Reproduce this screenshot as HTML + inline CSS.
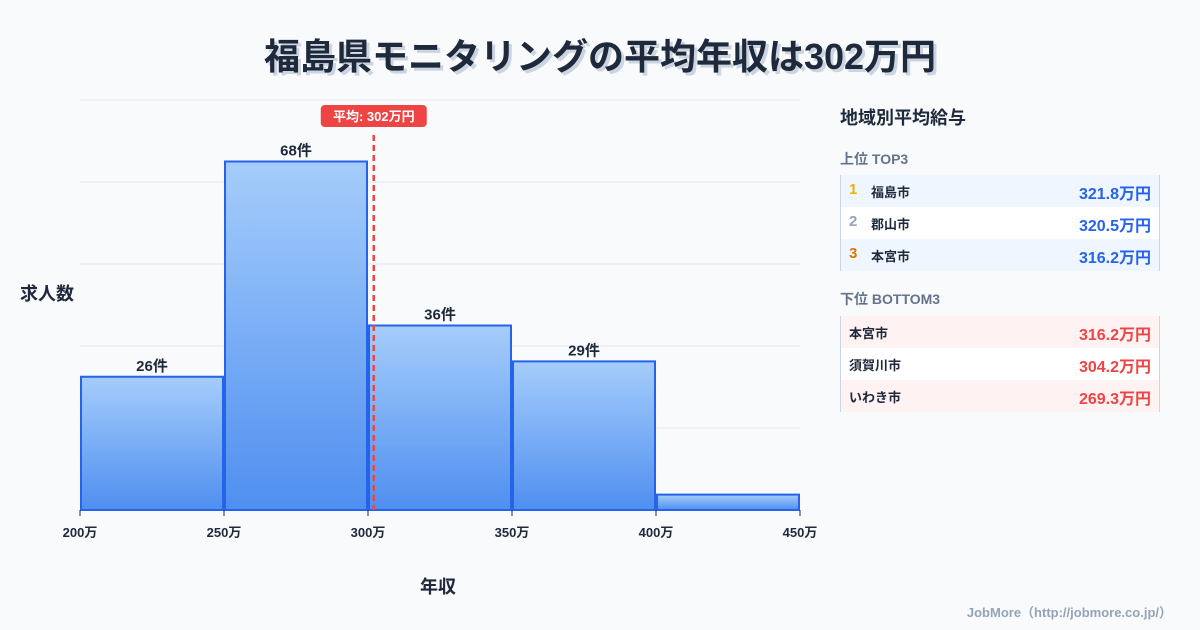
<!DOCTYPE html>
<html><head><meta charset="utf-8"><style>
body{margin:0;width:1200px;height:630px;background:#f8fafc;font-family:"Liberation Sans","Noto Sans CJK JP",sans-serif;position:relative;overflow:hidden;color:#1e293b}
.t{position:absolute;white-space:nowrap}
#title{left:0;width:1200px;text-align:center;top:28px;font-size:36px;font-weight:bold;color:#1e293b;text-shadow:3px 3px 0 #cbd5e1}
.panel{position:absolute;left:840px;width:320px}
.row{position:absolute;left:840px;width:320px;height:32px;border-left:1px solid #cbd5e1;border-right:1px solid #cbd5e1;box-sizing:border-box;font-size:13px;font-weight:bold}
.row span{position:absolute;top:7px}
.row .v{right:8px;font-size:16px;top:5px}
</style></head><body>
<div id="title" class="t">福島県モニタリングの平均年収は302万円</div>
<svg id="chart" width="1200" height="630" style="position:absolute;left:0;top:0">
<defs><linearGradient id="g" x1="0" y1="0" x2="0" y2="1"><stop offset="0" stop-color="#a5cdfb"/><stop offset="1" stop-color="#4f8ff0"/></linearGradient></defs>
</svg>
<div class="t" style="left:20px;top:280px;font-size:18px;font-weight:bold">求人数</div>
<div class="t" style="left:420px;top:573px;font-size:18px;font-weight:bold">年収</div>
<div class="t" style="right:28px;top:602px;font-size:13px;font-weight:bold;color:#94a3b8">JobMore（http://jobmore.co.jp/）</div>

<div class="t" style="left:840px;top:104px;font-size:18px;font-weight:bold">地域別平均給与</div>
<div class="t" style="left:840px;top:149px;font-size:14px;font-weight:bold;color:#64748b">上位 TOP3</div>
<div class="row" style="top:175px;background:#eff6ff"><span style="left:8px;color:#eab308;font-size:15px;top:6px">1</span><span style="left:30px">福島市</span><span class="v" style="color:#2563eb">321.8万円</span></div>
<div class="row" style="top:207px;background:#fff"><span style="left:8px;color:#94a3b8;font-size:15px;top:6px">2</span><span style="left:30px">郡山市</span><span class="v" style="color:#2563eb">320.5万円</span></div>
<div class="row" style="top:239px;background:#eff6ff"><span style="left:8px;color:#d97706;font-size:15px;top:6px">3</span><span style="left:30px">本宮市</span><span class="v" style="color:#2563eb">316.2万円</span></div>
<div class="t" style="left:840px;top:289px;font-size:14px;font-weight:bold;color:#64748b">下位 BOTTOM3</div>
<div class="row" style="top:316px;background:#fef2f2"><span style="left:8px">本宮市</span><span class="v" style="color:#ef4444">316.2万円</span></div>
<div class="row" style="top:348px;background:#fff"><span style="left:8px">須賀川市</span><span class="v" style="color:#ef4444">304.2万円</span></div>
<div class="row" style="top:380px;background:#fef2f2"><span style="left:8px">いわき市</span><span class="v" style="color:#ef4444">269.3万円</span></div>
<script>
const binEdges=[200,250,300,350,400,450];
const counts=[26,68,36,29,3];
const countLabels=["26件","68件","36件","29件",""];
const avgSalary=302;
const yTicks=[0,16,32,48,64,80];
const NS="http://www.w3.org/2000/svg";
const svg=document.getElementById('chart');
const x=v=>80+(v-200)/250*720;
const y=v=>510-v/80*410;
function mk(t,a){const e=document.createElementNS(NS,t);for(const k in a)e.setAttribute(k,a[k]);svg.appendChild(e);return e;}
yTicks.forEach(t=>{const l=mk('line',{x1:80,x2:800,y1:y(t),y2:y(t),stroke:'#e2e8f0','stroke-width':1});

});
counts.forEach((c,i)=>{const x0=x(binEdges[i])+1,x1=x(binEdges[i+1])-1;
const r=mk('rect',{x:x0,y:y(c),width:x1-x0,height:y(0)-y(c),fill:'url(#g)',stroke:'#2563eb','stroke-width':2});


if(countLabels[i]){const t=mk('text',{x:(x0+x1)/2,y:y(c)-6,'text-anchor':'middle','font-size':15,'font-weight':'bold',fill:'#1e293b'});t.textContent=countLabels[i];

}});
binEdges.forEach(b=>{const l=mk('line',{x1:x(b),x2:x(b),y1:510,y2:516,stroke:'#1e293b'});


const t=mk('text',{x:x(b),y:537,'text-anchor':'middle','font-size':13,'font-weight':'bold',fill:'#1e293b'});t.textContent=b+'万';

});
const ax=x(avgSalary);
const al=mk('line',{x1:ax,x2:ax,y1:135,y2:510,stroke:'#ef4444','stroke-width':2.5,'stroke-dasharray':'6,4'});


const ar=mk('rect',{x:ax-53,y:105,width:106,height:22,rx:4,fill:'#ef4444'});


const at=mk('text',{x:ax,y:121,'text-anchor':'middle','font-size':13,'font-weight':'bold',fill:'#fff'});at.textContent='平均: '+avgSalary+'万円';


</script>
</body></html>
